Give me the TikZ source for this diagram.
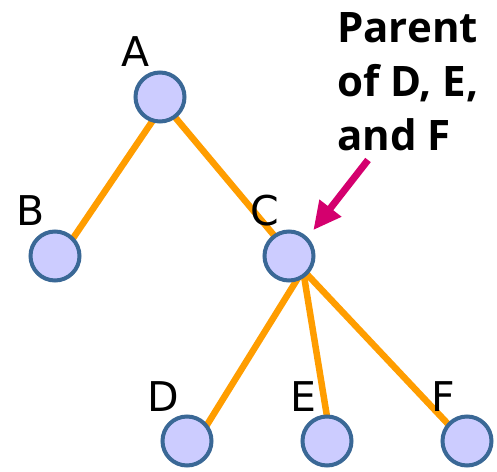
\documentclass[tikz,border=0pt]{standalone}
\usepackage{fontspec}
\setmainfont{DejaVu Sans}
\newfontfamily\notefont{Open Sans}
\usepackage{xcolor}
\usetikzlibrary{arrows.meta, positioning, calc, backgrounds}
\definecolor{nodefill}{HTML}{CCCCFF}
\definecolor{noderim}{HTML}{3A6896}
\definecolor{branch}{HTML}{FF9D00}
\definecolor{pointer}{HTML}{D4006E}
\definecolor{ink}{HTML}{000000}
\tikzset{
  vertex/.style ={circle, draw=noderim, line width=4pt, fill=nodefill,
                  minimum size=49pt, inner sep=0pt},
  tag/.style    ={font=\fontsize{41}{41}\selectfont, text=ink, inner sep=0pt,
                  anchor=base},
  branch/.style ={draw=branch, line width=6.5pt},
  note/.style   ={font=\notefont\bfseries\fontsize{42}{54}\selectfont, text=ink,
                  align=left, inner sep=0pt, anchor=north west},
  pointto/.style={-{Triangle[length=28pt,width=26pt]}, line width=7pt,
                  draw=pointer, shorten >=9pt}
}
\begin{document}
\begin{tikzpicture}[x=1pt, y=1pt]
  \useasboundingbox (0,0) rectangle (497,471);

  \node[vertex] (A) at (160,374) {};
  \node[vertex] (B) at (55,215)  {};
  \node[vertex] (C) at (289,215) {};
  \node[vertex] (D) at (187,30)  {};
  \node[vertex] (E) at (327,30)  {};
  \node[vertex] (F) at (467,30)  {};

  % letters above left of each circle
  \foreach \n in {A,B,C,D,E,F}
    \node[tag] (tag\n) at ($(\n)+(-24,30)$) {\n};

  % branch ends, hidden under the circles
  \coordinate (hubA) at ($(A)+(4,-7)$);
  \coordinate (hubB) at ($(B)+(6,0)$);
  \coordinate (hubC) at ($(C)+(14,-14)$);
  \coordinate (hubD) at ($(D)+(10,0)$);
  \coordinate (hubE) at ($(E)+(4,0)$);
  \coordinate (hubF) at ($(F)+(-3,0)$);

  \begin{scope}[on background layer]
    \draw[branch] (hubA) -- (hubB);
    \draw[branch] (hubA) -- (hubC);
    \draw[branch] (hubC) -- (hubD);
    \draw[branch] (hubC) -- (hubE);
    \draw[branch] (hubC) -- (hubF);
  \end{scope}

  \node[note] (parent) at (337,459) {Parent\\of D, E,\\and F};
  \coordinate (tail) at (368,311);
  \draw[pointto] (tail) -- (C.45);
\end{tikzpicture}
\end{document}
